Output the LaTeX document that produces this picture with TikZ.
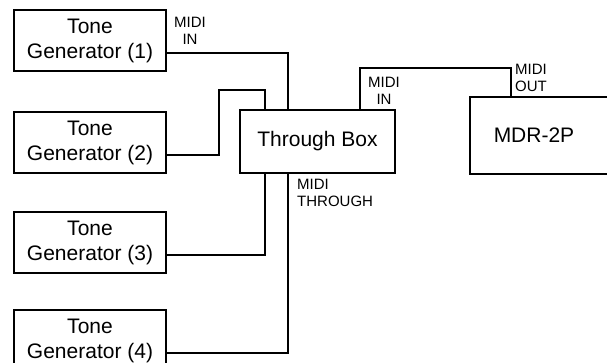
\documentclass[tikz,border=0pt]{standalone}
\usepackage{fontspec}
\setmainfont{Liberation Sans}
\begin{document}
\begin{tikzpicture}[x=1pt,y=-1pt,
  box/.style={draw,line width=2pt,inner sep=0pt,align=center,
    font=\fontsize{21}{25}\selectfont},
  wire/.style={line width=2pt},
  lbl/.style={inner sep=0pt,font=\fontsize{15}{17}\selectfont}]
\clip (0,0) rectangle (607,363);
\node[box,minimum width=152pt,minimum height=61pt] (tg1) at (90,40.5) {Tone\\Generator (1)};
\node[box,minimum width=152pt,minimum height=61pt] (tg2) at (90,142.5) {Tone\\Generator (2)};
\node[box,minimum width=152pt,minimum height=61pt] (tg3) at (90,242.5) {Tone\\Generator (3)};
\node[box,minimum width=152pt,minimum height=61pt] (tg4) at (90,340.5) {Tone\\Generator (4)};
\node[box,minimum width=155pt,minimum height=63pt] (through) at (317.5,141.5) {Through Box};
\node[box,minimum width=170pt,minimum height=77pt,anchor=north west] (mdr) at (469,96) {};
\node[inner sep=0pt,font=\fontsize{21}{25}\selectfont] (mdrtext) at (534,135) {MDR-2P};
% connectors
\draw[wire] ([yshift=-12.5pt]tg1.east) -| ([xshift=-29.5pt]through.north);
\draw[wire] ([yshift=-12.5pt]tg2.east) -- (219,155) -- (219,90) -- (265,90) -- ([xshift=-52.5pt]through.north);
\draw[wire] ([yshift=-12.5pt]tg3.east) -| ([xshift=-52.5pt]through.south);
\draw[wire] ([yshift=-12.5pt]tg4.east) -| ([xshift=-29.5pt]through.south);
\draw[wire] ([xshift=42.5pt]through.north) -- ++(0,-41) -| ([xshift=42pt]mdr.north west);
% labels
\node[lbl,align=center] (l1) at (190,30.5) {MIDI\\IN};
\node[lbl,align=center] (l2) at (384,91) {MIDI\\IN};
\node[lbl,align=left,anchor=west] (l3) at (515,78) {MIDI\\OUT};
\node[lbl,align=left,anchor=west] (l4) at (297,192.5) {MIDI\\THROUGH};
\end{tikzpicture}
\end{document}
